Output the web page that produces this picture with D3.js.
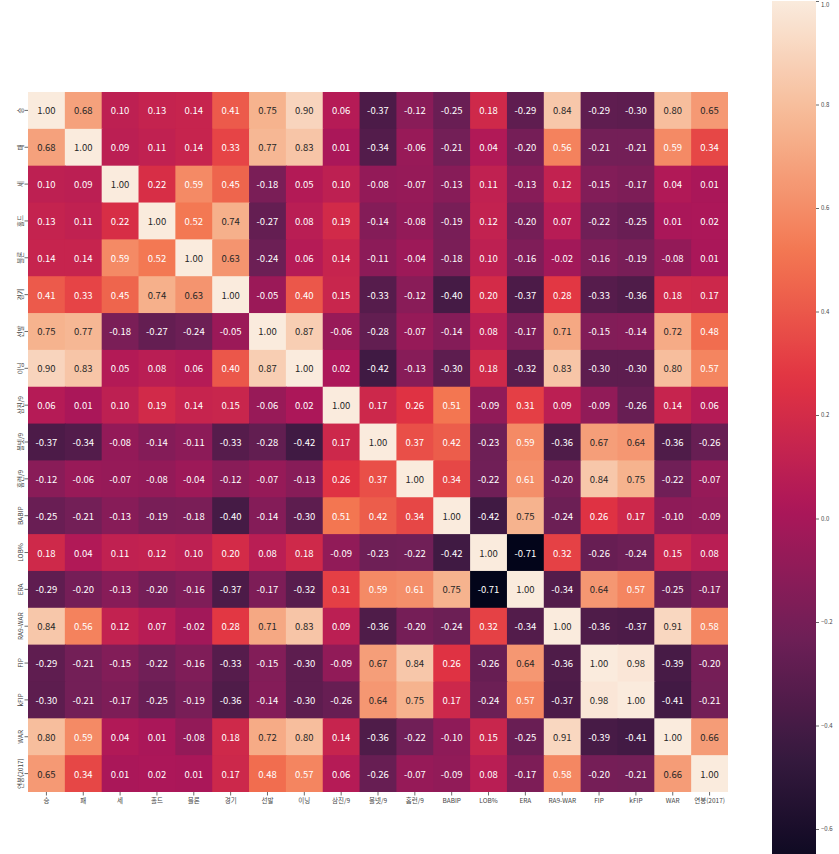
<!DOCTYPE html>
<html><head><meta charset="utf-8">
<script src="https://cdn.jsdelivr.net/npm/d3@7"></script>
<style>body{margin:0;background:#fff;} svg{display:block;}</style>
</head><body>
<svg id="chart" width="839" height="854"></svg>
<script>
const labels = ["승","패","세","홀드","블론","경기","선발","이닝","삼진/9","볼넷/9","홈런/9","BABIP","LOB%","ERA","RA9-WAR","FIP","kFIP","WAR","연봉(2017)"];
const corr = [
 [1.00,0.68,0.10,0.13,0.14,0.41,0.75,0.90,0.06,-0.37,-0.12,-0.25,0.18,-0.29,0.84,-0.29,-0.30,0.80,0.65],
 [0.68,1.00,0.09,0.11,0.14,0.33,0.77,0.83,0.01,-0.34,-0.06,-0.21,0.04,-0.20,0.56,-0.21,-0.21,0.59,0.34],
 [0.10,0.09,1.00,0.22,0.59,0.45,-0.18,0.05,0.10,-0.08,-0.07,-0.13,0.11,-0.13,0.12,-0.15,-0.17,0.04,0.01],
 [0.13,0.11,0.22,1.00,0.52,0.74,-0.27,0.08,0.19,-0.14,-0.08,-0.19,0.12,-0.20,0.07,-0.22,-0.25,0.01,0.02],
 [0.14,0.14,0.59,0.52,1.00,0.63,-0.24,0.06,0.14,-0.11,-0.04,-0.18,0.10,-0.16,-0.02,-0.16,-0.19,-0.08,0.01],
 [0.41,0.33,0.45,0.74,0.63,1.00,-0.05,0.40,0.15,-0.33,-0.12,-0.40,0.20,-0.37,0.28,-0.33,-0.36,0.18,0.17],
 [0.75,0.77,-0.18,-0.27,-0.24,-0.05,1.00,0.87,-0.06,-0.28,-0.07,-0.14,0.08,-0.17,0.71,-0.15,-0.14,0.72,0.48],
 [0.90,0.83,0.05,0.08,0.06,0.40,0.87,1.00,0.02,-0.42,-0.13,-0.30,0.18,-0.32,0.83,-0.30,-0.30,0.80,0.57],
 [0.06,0.01,0.10,0.19,0.14,0.15,-0.06,0.02,1.00,0.17,0.26,0.51,-0.09,0.31,0.09,-0.09,-0.26,0.14,0.06],
 [-0.37,-0.34,-0.08,-0.14,-0.11,-0.33,-0.28,-0.42,0.17,1.00,0.37,0.42,-0.23,0.59,-0.36,0.67,0.64,-0.36,-0.26],
 [-0.12,-0.06,-0.07,-0.08,-0.04,-0.12,-0.07,-0.13,0.26,0.37,1.00,0.34,-0.22,0.61,-0.20,0.84,0.75,-0.22,-0.07],
 [-0.25,-0.21,-0.13,-0.19,-0.18,-0.40,-0.14,-0.30,0.51,0.42,0.34,1.00,-0.42,0.75,-0.24,0.26,0.17,-0.10,-0.09],
 [0.18,0.04,0.11,0.12,0.10,0.20,0.08,0.18,-0.09,-0.23,-0.22,-0.42,1.00,-0.71,0.32,-0.26,-0.24,0.15,0.08],
 [-0.29,-0.20,-0.13,-0.20,-0.16,-0.37,-0.17,-0.32,0.31,0.59,0.61,0.75,-0.71,1.00,-0.34,0.64,0.57,-0.25,-0.17],
 [0.84,0.56,0.12,0.07,-0.02,0.28,0.71,0.83,0.09,-0.36,-0.20,-0.24,0.32,-0.34,1.00,-0.36,-0.37,0.91,0.58],
 [-0.29,-0.21,-0.15,-0.22,-0.16,-0.33,-0.15,-0.30,-0.09,0.67,0.84,0.26,-0.26,0.64,-0.36,1.00,0.98,-0.39,-0.20],
 [-0.30,-0.21,-0.17,-0.25,-0.19,-0.36,-0.14,-0.30,-0.26,0.64,0.75,0.17,-0.24,0.57,-0.37,0.98,1.00,-0.41,-0.21],
 [0.80,0.59,0.04,0.01,-0.08,0.18,0.72,0.80,0.14,-0.36,-0.22,-0.10,0.15,-0.25,0.91,-0.39,-0.41,1.00,0.66],
 [0.65,0.34,0.01,0.02,0.01,0.17,0.48,0.57,0.06,-0.26,-0.07,-0.09,0.08,-0.17,0.58,-0.20,-0.21,0.66,1.00]
];
const cbTicks = [1.0,0.8,0.6,0.4,0.2,0.0,-0.2,-0.4,-0.6];
const rocketStops = ["#03051a","#35193e","#701f57","#ad1759","#e13342","#f37651","#f6b48f","#faebdd"];

const FONT = "'Noto Sans CJK KR','Noto Sans',sans-serif";
const vmin = d3.min(corr.flat()), vmax = d3.max(corr.flat());
const rocket = d3.scaleLinear().domain(d3.range(rocketStops.length).map(i => i/(rocketStops.length-1))).range(rocketStops).interpolate(d3.interpolateRgb);
const norm = d3.scaleLinear().domain([vmin, vmax]).range([0,1]).clamp(true);
const color = v => rocket(norm(v));

function lum(c){
  const r = d3.rgb(c);
  const f = x => { x/=255; return x<=0.03928 ? x/12.92 : Math.pow((x+0.055)/1.055,2.4); };
  return 0.2126*f(r.r)+0.7152*f(r.g)+0.0722*f(r.b);
}

const svg = d3.select("#chart");
const L=28, R=728, T=92, B=792;
const x = d3.scaleBand().domain(labels).range([L,R]);
const y = d3.scaleBand().domain(labels).range([T,B]);

const gCells = svg.append("g");
const gText = svg.append("g");
corr.forEach((row,i)=>{
  row.forEach((v,j)=>{
    const c = color(v);
    const last = (i===labels.length-1), lastc = (j===labels.length-1);
    gCells.append("rect").attr("x",x(labels[j])).attr("y",y(labels[i]))
      .attr("width",x.bandwidth()+(lastc?0:1)).attr("height",y.bandwidth()+(last?0:1)).attr("fill",c);
    gText.append("text").attr("x",x(labels[j])+x.bandwidth()/2).attr("y",y(labels[i])+y.bandwidth()/2)
      .attr("text-anchor","middle").attr("dominant-baseline","central")
      .attr("font-family",FONT).attr("font-size",9.5)
      .attr("fill", lum(c)>0.408 ? "#262626" : "#ffffff")
      .text(v.toFixed(2));
  });
});

// x axis
const xAxis = d3.axisBottom(x).tickSize(3.5).tickPadding(2.5);
const gx = svg.append("g").attr("transform",`translate(0,${B})`).call(xAxis);
gx.select(".domain").remove();
gx.selectAll("line").attr("stroke","#444").attr("stroke-width",0.8);
gx.selectAll("text").attr("font-family",FONT).attr("font-size",6.5).attr("fill","#444");

// y axis
const yAxis = d3.axisLeft(y).tickSize(3.5).tickPadding(2.5);
const gy = svg.append("g").attr("transform",`translate(${L},0)`).call(yAxis);
gy.select(".domain").remove();
gy.selectAll("line").attr("stroke","#444").attr("stroke-width",0.8);
gy.selectAll("text").attr("font-family",FONT).attr("font-size",6.5).attr("fill","#444")
  .attr("text-anchor","middle").attr("dy",null).attr("dominant-baseline","central")
  .attr("x",null).attr("transform","translate(-8.5,0) rotate(-90)");

// colorbar
const cbX0 = 772, cbX1 = 816;
const cy = d3.scaleLinear().domain([vmin, vmax]).range([1 + (1-vmin)*517.5, 1 + (1-vmax)*517.5]);
const defs = svg.append("defs");
const grad = defs.append("linearGradient").attr("id","cbgrad").attr("x1",0).attr("x2",0).attr("y1",1).attr("y2",0);
d3.range(0,1.0001,0.02).forEach(t=>grad.append("stop").attr("offset",t).attr("stop-color",rocket(t)));
svg.append("rect").attr("x",cbX0).attr("y",cy(vmax)).attr("width",cbX1-cbX0).attr("height",cy(vmin)-cy(vmax)).attr("fill","url(#cbgrad)");
const cAxis = d3.axisRight(cy).tickValues(cbTicks).tickSize(3).tickPadding(2).tickFormat(d=>d3.format(".1f")(d).replace("-","−"));
const gc = svg.append("g").attr("transform",`translate(${cbX1},0)`).call(cAxis);
gc.select(".domain").remove();
gc.selectAll("line").attr("stroke","#444").attr("stroke-width",0.8);
gc.selectAll("text").attr("font-family",FONT).attr("font-size",6).attr("fill","#444");
gc.selectAll(".tick").filter(d=>d===1).select("text").attr("dy","0.95em");
</script>
</body></html>
